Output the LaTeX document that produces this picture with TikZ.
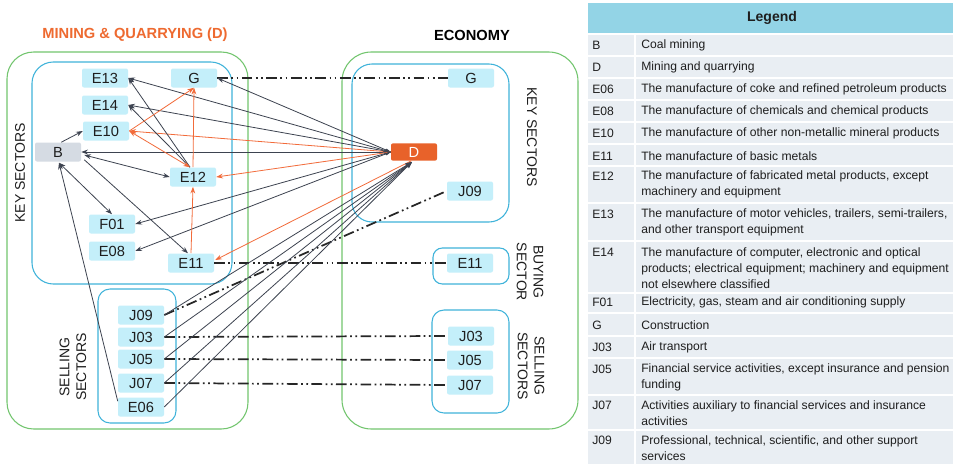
\documentclass[tikz,border=0pt]{standalone}
\usepackage{fontspec}
\setmainfont{Liberation Sans}
\usetikzlibrary{arrows.meta,calc}
\definecolor{nodefill}{HTML}{C4EFFA}
\definecolor{bfill}{HTML}{D5DBE3}
\definecolor{dorange}{HTML}{E8622A}
\definecolor{oline}{HTML}{F26B3A}
\definecolor{dline}{HTML}{3D4350}
\definecolor{gbox}{HTML}{72C56E}
\definecolor{bbox}{HTML}{3FB3DA}
\definecolor{legh}{HTML}{93D4E6}
\definecolor{legrow}{HTML}{E9EEF3}
\definecolor{ttl}{HTML}{EE6A30}
\definecolor{txt}{HTML}{1E1E1E}
\begin{document}
\begin{tikzpicture}[x=0.75pt,y=-0.75pt,
  sec/.style={fill=nodefill, rounded corners=1.5pt, minimum width=34.5pt, minimum height=14.25pt, inner sep=0pt, text=txt, font=\fontsize{11}{12}\selectfont},
  bsec/.style={sec, fill=bfill},
  dsec/.style={sec, fill=dorange, text=white, minimum height=13pt},
  darr/.style={draw=dline, line width=0.6pt, -{Stealth[length=5pt,width=3.6pt]}},
  oarr/.style={draw=oline, line width=0.6pt, -{Stealth[length=5pt,width=3.6pt]}},
  ddash/.style={draw=black!85, line width=1.3pt, dash pattern=on 8pt off 2.6pt on 1.3pt off 2.6pt on 1.3pt off 2.6pt},
  gcont/.style={draw=gbox, line width=0.8pt},
  bcont/.style={draw=bbox, line width=0.8pt},
  grp/.style={text=txt, font=\fontsize{10.5}{12.5}\selectfont, align=center, inner sep=0pt},
  ttlstyle/.style={font=\bfseries\fontsize{11}{13}\selectfont, inner sep=0pt},
  legcode/.style={anchor=west, inner sep=0pt, text=txt, font=\fontsize{9.1}{12}\selectfont},
  legdesc/.style={anchor=west, inner sep=0pt, text=txt, align=left, font=\fontsize{9.1}{12}\selectfont},
]
\useasboundingbox (0,0) rectangle (953,464);
\fill[white] (0,0) rectangle (953,464);

% titles
\node[ttlstyle, text=ttl] (t1) at (135,35) {MINING \& QUARRYING (D)};
\node[ttlstyle, text=black] (t2) at (472,35) {ECONOMY};

% containers
\draw[gcont, rounded corners=20pt] (7,52) rectangle (248,429);
\draw[bcont, rounded corners=16pt] (32,62) rectangle (232,284);
\draw[bcont, rounded corners=9pt] (98,289) rectangle (176,423);
\draw[gcont, rounded corners=22pt] (342,52) rectangle (578,429);
\draw[bcont, rounded corners=15pt] (352,64) rectangle (509,222);
\draw[bcont, rounded corners=7pt] (433,248) rectangle (509,284);
\draw[bcont, rounded corners=9pt] (432,310) rectangle (509,413);

% group labels
\node[grp, rotate=90] (kl) at (20,173) {KEY SECTORS};
\node[grp, rotate=90] (sl) at (73,367) {SELLING\\SECTORS};
\node[grp, rotate=-90] (kr) at (532,137) {KEY SECTORS};
\node[grp, rotate=-90] (br) at (530,272) {BUYING\\SECTOR};
\node[grp, rotate=-90] (sr) at (531,366) {SELLING\\SECTORS};

% nodes left
\node[sec] (E13) at (105,78) {E13};
\node[sec] (GL) at (194,78) {G};
\node[sec] (E14) at (105,105) {E14};
\node[sec] (E10) at (106,131) {E10};
\node[bsec] (B) at (58,152) {B};
\node[sec] (E12) at (193,177) {E12};
\node[sec] (F01) at (112,224) {F01};
\node[sec] (E08) at (112,251) {E08};
\node[sec] (E11L) at (191,263) {E11};
\node[sec] (J09L) at (141,315) {J09};
\node[sec] (J03L) at (141,337) {J03};
\node[sec] (J05L) at (141,359) {J05};
\node[sec] (J07L) at (141,383) {J07};
\node[sec] (E06) at (141,407) {E06};
% nodes right
\node[sec] (GR) at (471,78) {G};
\node[dsec] (D) at (414,152) {D};
\node[sec] (J09R) at (470,191) {J09};
\node[sec] (E11R) at (470,263) {E11};
\node[sec] (J03R) at (471,336) {J03};
\node[sec] (J05R) at (470,360) {J05};
\node[sec] (J07R) at (470,385) {J07};

% dash-dot links
\draw[ddash] (GL.east) -- (GR.west);
\draw[ddash] (E11L.east) -- (E11R.west);
\draw[ddash] (J09L.east) -- (J09R.west);
\draw[ddash] (J03L.east) -- (J03R.west);
\draw[ddash] (J05L.east) -- (J05R.west);
\draw[ddash] (J07L.east) -- (J07R.west);

% D to left key sectors
\draw[darr] (D.west) -- (GL.east);
\draw[darr] (D.west) -- (E13.east);
\draw[darr] (D.west) -- (E14.east);
\draw[oarr] (D.west) -- (E10.east);
\draw[draw=dline, line width=0.6pt, {Diamond[length=6pt,width=5pt]}-{Stealth[length=5pt,width=3.6pt]}] (D.west) -- (B.east);
\draw[oarr] (D.west) -- (E12.east);
\draw[darr] (D.west) -- (F01.east);
\draw[darr] (D.west) -- (E08.east);
\draw[oarr] ($(D.south)+(-3,0)$) -- ($(E11L.east)+(1,-3)$);

% selling sectors to D
\draw[darr] (J09L.east) -- ($(D.south)+(-2,1)$);
\draw[darr] (J03L.east) -- ($(D.south)+(-2,1)$);
\draw[darr] (J05L.east) -- ($(D.south)+(-2,1)$);
\draw[darr] (J07L.east) -- ($(D.south)+(-2,1)$);
\draw[darr] (E06.east) -- ($(D.south)+(-2,1)$);

% inner links
\draw[darr] ($(B.north east)+(-20,0)$) -- (E10.west);
\draw[darr, {Stealth[length=5pt,width=3.6pt]}-{Stealth[length=5pt,width=3.6pt]}] ($(B.east)+(3,3)$) -- (E12.west);
\draw[darr] ($(B.south east)+(3,-2)$) -- ($(E11L.north)+(-3,0)$);
\draw[darr, {Stealth[length=5pt,width=3.6pt]}-{Stealth[length=5pt,width=3.6pt]}] ($(B.south)+(1,1)$) -- (F01.north);
\draw[darr] ($(E06.north west)+(0,4)$) -- ($(B.south)+(1,1)$);
\draw[darr] ($(E12.north)+(-3,0)$) -- (E13.east);
\draw[darr] ($(E12.north)+(-3,0)$) -- (E14.east);
\draw[oarr, {Stealth[length=5pt,width=3.6pt]}-{Stealth[length=5pt,width=3.6pt]}] (E10.east) -- ($(E12.north)+(-3,0)$);
\draw[oarr] (E10.east) -- (GL.south);
\draw[oarr] (E12.north) -- (GL.south);
\draw[oarr] (E11L.north) -- (E12.south);

% legend
\fill[legh] (588,3) rectangle (953,33);
\node[font=\bfseries\fontsize{10.5}{12}\selectfont, text=txt, inner sep=0pt] (lh) at (772,18) {Legend};
\foreach \code/\desc/\cy/\dy/\top/\bot [count=\i] in {
 B/{Coal mining}/45/45/34/56,
 D/{Mining and quarrying}/67/67/56/78,
 E06/{The manufacture of coke and refined petroleum products}/89/89/78/100,
 E08/{The manufacture of chemicals and chemical products}/111/111/100/122,
 E10/{The manufacture of other non-metallic mineral products}/133/133/122/144,
 E11/{The manufacture of basic metals}/156/156/144/166,
 E12/{The manufacture of fabricated metal products, except\\machinery and equipment}/176/184/166/203,
 E13/{The manufacture of motor vehicles, trailers, semi-trailers,\\and other transport equipment}/214/222/203/241,
 E14/{The manufacture of computer, electronic and optical\\products; electrical equipment; machinery and equipment\\not elsewhere classified}/252/268/241/293,
 F01/{Electricity, gas, steam and air conditioning supply}/302/302/293/313,
 G/{Construction}/325/325/313/336,
 J03/{Air transport}/347/347/336/358,
 J05/{Financial service activities, except insurance and pension\\funding}/369/377/358/395,
 J07/{Activities auxiliary to financial services and insurance\\activities}/405/413/395/430,
 J09/{Professional, technical, scientific, and other support\\services}/440/448/430/470}
{
 \fill[legrow] (588,\top+1) rectangle (953,\bot-1);
 \node[legcode] (lc\i) at (592,\cy) {\code};
 \node[legdesc] (ld\i) at (641,\dy) {\desc};
}
\draw[white, line width=1.5pt] (635,34) -- (635,464);
\end{tikzpicture}
\end{document}
